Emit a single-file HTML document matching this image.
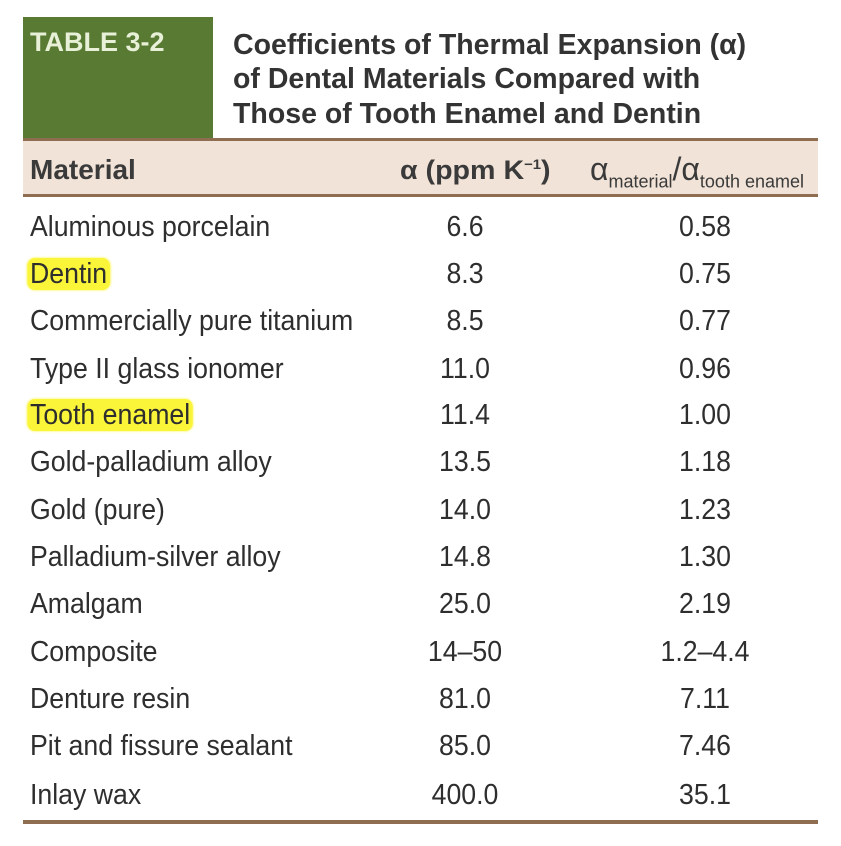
<!DOCTYPE html>
<html><head><meta charset="utf-8"><style>
body{margin:0;width:841px;height:846px;background:#fff;position:relative;overflow:hidden;font-family:"Liberation Sans",sans-serif;color:#2e2e2e}
.a{position:absolute;white-space:nowrap}
.t{font-weight:bold;font-size:28.5px;color:#333;left:233px}
.r{font-size:29px;line-height:30px;transform:scaleX(0.92)}
.c1{left:30px;transform-origin:left}
.c2{left:405px;width:120px;text-align:center}
.c3{left:640px;width:130px;text-align:center}
.hl{background:#fbf53a;border-radius:8px;padding:0 3px;margin-left:-3px;box-shadow:0 0 3px #fbf53a}
</style></head><body>
<div class="a" style="left:23px;top:17px;width:190px;height:121px;background:#587a32"></div>
<div class="a" style="left:30px;top:27px;font-weight:bold;font-size:27px;color:#e8f0d8">TABLE 3-2</div>
<div class="a t" style="top:29px">Coefficients of Thermal Expansion (α)</div>
<div class="a t" style="top:63px">of Dental Materials Compared with</div>
<div class="a t" style="top:98px">Those of Tooth Enamel and Dentin</div>
<div class="a" style="left:23px;top:138px;width:795px;height:59px;background:#f1e3d7;border-top:3px solid #8e6d50;border-bottom:3px solid #8e6d50;box-sizing:border-box"></div>
<div class="a" style="left:30px;top:154px;font-weight:bold;font-size:28px;color:#3a3a3a">Material</div>
<div class="a" style="left:400px;top:155px;font-weight:bold;font-size:27px;color:#3a3a3a;transform:scaleX(1.06);transform-origin:left">α (ppm K<sup style="font-size:14px">−1</sup>)</div>
<div class="a" style="left:590px;top:151px;font-size:32px;color:#3a3a3a;transform:scaleX(1.0);transform-origin:left">α<sub style="font-size:18px">material</sub>/α<sub style="font-size:18px">tooth enamel</sub></div>
<div class="a" style="left:23px;top:820px;width:795px;height:4px;background:#8e6d50"></div>

<div class="a r c1" style="top:212px">Aluminous porcelain</div><div class="a r c2" style="top:212px">6.6</div><div class="a r c3" style="top:212px">0.58</div>
<div class="a r c1" style="top:259px"><span class="hl">Dentin</span></div><div class="a r c2" style="top:259px">8.3</div><div class="a r c3" style="top:259px">0.75</div>
<div class="a r c1" style="top:306px">Commercially pure titanium</div><div class="a r c2" style="top:306px">8.5</div><div class="a r c3" style="top:306px">0.77</div>
<div class="a r c1" style="top:354px">Type II glass ionomer</div><div class="a r c2" style="top:354px">11.0</div><div class="a r c3" style="top:354px">0.96</div>
<div class="a r c1" style="top:400px"><span class="hl">Tooth enamel</span></div><div class="a r c2" style="top:400px">11.4</div><div class="a r c3" style="top:400px">1.00</div>
<div class="a r c1" style="top:447px">Gold-palladium alloy</div><div class="a r c2" style="top:447px">13.5</div><div class="a r c3" style="top:447px">1.18</div>
<div class="a r c1" style="top:495px">Gold (pure)</div><div class="a r c2" style="top:495px">14.0</div><div class="a r c3" style="top:495px">1.23</div>
<div class="a r c1" style="top:542px">Palladium-silver alloy</div><div class="a r c2" style="top:542px">14.8</div><div class="a r c3" style="top:542px">1.30</div>
<div class="a r c1" style="top:589px">Amalgam</div><div class="a r c2" style="top:589px">25.0</div><div class="a r c3" style="top:589px">2.19</div>
<div class="a r c1" style="top:637px">Composite</div><div class="a r c2" style="top:637px">14–50</div><div class="a r c3" style="top:637px">1.2–4.4</div>
<div class="a r c1" style="top:684px">Denture resin</div><div class="a r c2" style="top:684px">81.0</div><div class="a r c3" style="top:684px">7.11</div>
<div class="a r c1" style="top:731px">Pit and fissure sealant</div><div class="a r c2" style="top:731px">85.0</div><div class="a r c3" style="top:731px">7.46</div>
<div class="a r c1" style="top:780px">Inlay wax</div><div class="a r c2" style="top:780px">400.0</div><div class="a r c3" style="top:780px">35.1</div>
</body></html>
